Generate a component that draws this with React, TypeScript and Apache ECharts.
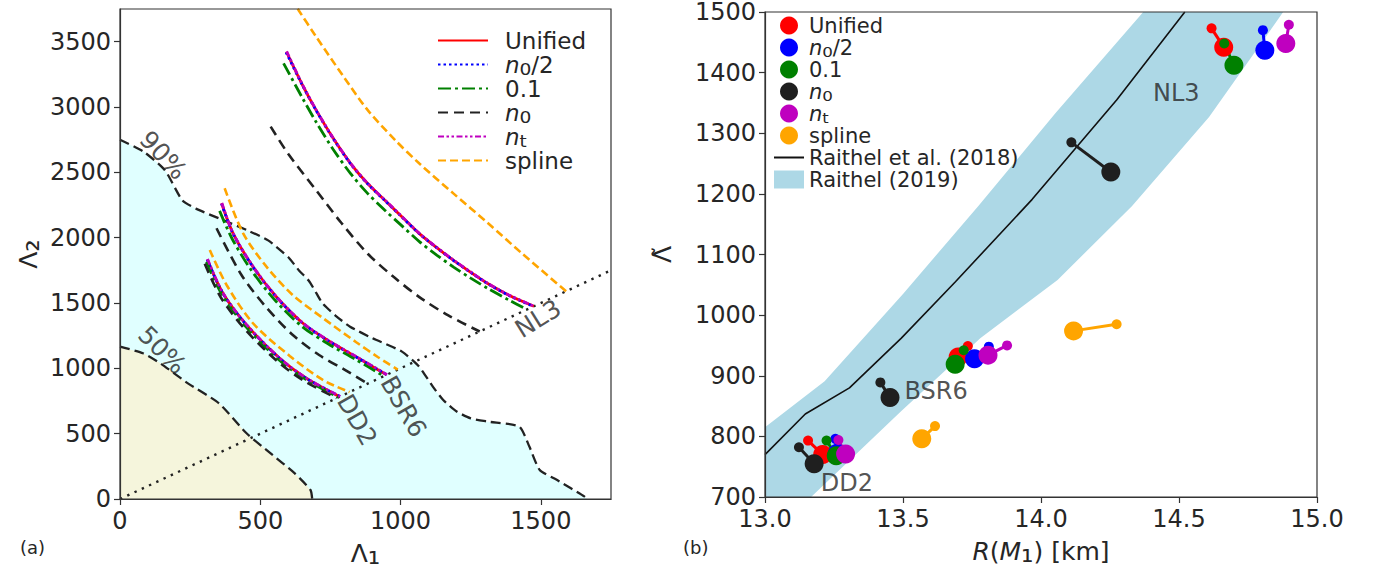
import React, { useEffect, useRef } from 'react';
import * as echarts from 'echarts';

// ---------------- Panel (a): Λ1 vs Λ2 ----------------
const leftXTicks = [0, 500, 1000, 1500];
const leftYTicks = [0, 500, 1000, 1500, 2000, 2500, 3000, 3500];

const contour90 = [[0, 2750], [85, 2657], [160, 2516], [222, 2286], [271, 2222], [369, 2133], [454, 2056], [528, 1979], [600, 1850], [638, 1749], [673, 1670], [700, 1575], [722, 1497], [770, 1400], [820, 1319], [900, 1230], [1005, 1128], [1066, 1013], [1115, 860], [1152, 758], [1200, 670], [1250, 617], [1312, 592], [1423, 554], [1459, 401], [1496, 222], [1558, 145], [1656, 18], [1665, 0]];
const contour50 = [[0, 1166], [82, 1115], [144, 1038], [242, 885], [353, 732], [451, 503], [537, 349], [623, 196], [679, 69], [685, 0]];
const diagonal = [[0, 0], [1750, 1750]];

const unifiedDD2 = [[311, 1834], [367, 1574], [451, 1332], [569, 1077], [664, 924], [783, 783]];
const unifiedBSR6 = [[362, 2263], [403, 2033], [474, 1778], [557, 1548], [652, 1345], [740, 1215], [840, 1090], [950, 950]];
const unifiedNL3 = [[593, 3423], [650, 3170], [699, 2976], [760, 2760], [822, 2567], [880, 2420], [944, 2286], [1000, 2170], [1067, 2031], [1130, 1922], [1189, 1826], [1250, 1735], [1312, 1647], [1390, 1555], [1475, 1475]];

const halfDD2 = [[311, 1832], [367, 1573], [451, 1331], [569, 1076], [664, 923], [784, 784]];
const halfBSR6 = [[362, 2260], [403, 2031], [474, 1776], [557, 1546], [652, 1344], [740, 1214], [840, 1089], [951, 951]];
const halfNL3 = [[592, 3418], [650, 3168], [699, 2974], [760, 2758], [822, 2565], [880, 2418], [944, 2284], [1000, 2168], [1067, 2030], [1130, 1921], [1189, 1825], [1250, 1734], [1312, 1646], [1390, 1554], [1474, 1474]];

const greenDD2 = [[308, 1815], [365, 1558], [449, 1318], [566, 1066], [662, 915], [778, 778]];
const greenBSR6 = [[355, 2205], [400, 1990], [470, 1745], [555, 1515], [650, 1318], [740, 1190], [840, 1068], [940, 940]];
const greenNL3 = [[583, 3334], [650, 3070], [699, 2885], [760, 2675], [822, 2490], [880, 2345], [944, 2210], [1000, 2100], [1067, 1970], [1130, 1865], [1189, 1775], [1250, 1690], [1312, 1610], [1390, 1518], [1450, 1450]];

const n0DD2 = [[302, 1800], [360, 1540], [445, 1300], [560, 1055], [655, 905], [772, 772]];
const n0BSR6 = [[344, 2072], [433, 1714], [520, 1470], [616, 1255], [711, 1100], [800, 990], [883, 883]];
const n0NL3 = [[537, 2850], [600, 2640], [699, 2363], [790, 2110], [883, 1877], [975, 1700], [1067, 1545], [1170, 1405], [1282, 1282]];

const ntDD2 = [[312, 1836], [367, 1576], [451, 1334], [569, 1078], [664, 925], [785, 785]];
const ntBSR6 = [[363, 2265], [403, 2035], [474, 1780], [557, 1550], [652, 1347], [740, 1217], [840, 1092], [952, 952]];
const ntNL3 = [[594, 3425], [650, 3173], [699, 2978], [760, 2762], [822, 2569], [880, 2422], [944, 2288], [1000, 2172], [1067, 2033], [1130, 1924], [1189, 1828], [1250, 1737], [1312, 1649], [1390, 1557], [1476, 1476]];

const splineDD2 = [[320, 1906], [380, 1638], [474, 1345], [605, 1095], [723, 911], [818, 818]];
const splineBSR6 = [[373, 2378], [439, 2033], [522, 1778], [616, 1560], [723, 1385], [842, 1200], [920, 1085], [990, 990]];
const splineNL3 = [[610, 3830], [636, 3743], [699, 3538], [797, 3232], [883, 2976], [981, 2746], [1067, 2567], [1189, 2337], [1312, 2110], [1434, 1877], [1590, 1590]];

const leftLabelTexts = ['90%', '50%', 'NL3', 'BSR6', 'DD2'];
const leftLabelAnchors = [[154, 2631], [150, 1140], [1490, 1380], [1011, 707], [845, 605]];
const leftLabelAngles = [-47, -45, 32, -60, -60];

// ---------------- Panel (b): R(M1) vs Λ̃ ----------------
const rightXTicks = [13.0, 13.5, 14.0, 14.5, 15.0];
const rightYTicks = [700, 800, 900, 1000, 1100, 1200, 1300, 1400, 1500];

const bandUpper = [[12.95, 792], [13.0, 815], [13.216, 891], [13.5, 1035], [13.773, 1180], [14.052, 1333], [14.365, 1497], [14.42, 1530]];
const bandLower = [[12.95, 560], [13.167, 700], [13.494, 842], [13.78, 962], [14.06, 1058], [14.33, 1180], [14.609, 1327], [14.873, 1497], [14.92, 1530]];
const raithel2018 = [[13.0, 770], [13.146, 837], [13.306, 880], [13.494, 962], [13.69, 1055], [13.968, 1191], [14.274, 1355], [14.521, 1500]];

const unifiedSmall = [[13.156, 793], [13.735, 949], [14.618, 1473]];
const unifiedBig = [[13.209, 770], [13.70, 931], [14.662, 1442]];
const halfSmall = [[13.255, 796], [13.811, 948], [14.804, 1470]];
const halfBig = [[13.262, 772], [13.759, 928], [14.811, 1437]];
const greenSmall = [[13.223, 793], [13.72, 942], [14.664, 1448]];
const greenBig = [[13.258, 768], [13.689, 919], [14.699, 1412]];
const n0Small = [[13.123, 782], [13.418, 889], [14.110, 1285]];
const n0Big = [[13.178, 755], [13.453, 864], [14.253, 1236]];
const ntSmall = [[13.266, 794], [13.877, 950], [14.898, 1479]];
const ntBig = [[13.292, 771], [13.808, 934], [14.887, 1448]];
const splineSmall = [[13.616, 817], [14.274, 985]];
const splineBig = [[13.568, 796], [14.118, 974]];

const rightLabelTexts = ['NL3', 'BSR6', 'DD2'];
const rightLabelAnchors = [[14.49, 1366], [13.62, 875], [13.297, 723]];

const modelKeys = ['Unified', 'n0/2', '0.1', 'n0', 'nt', 'spline'];

const FONT = 'DejaVu Sans';
const TXT = '#262626';

// every legend row carries one subscript-sized token so that all rows get the same height
const richName: Record<string, string> = {
  Unified: '{r|Unified}{s| }',
  'n0/2': '{i|n}{s|\u2080}{r|/2}',
  '0.1': '{r|0.1}{s| }',
  n0: '{i|n}{s|\u2080}',
  nt: '{i|n}{s|\u209C}',
  spline: '{r|spline}{s| }',
};

function richSet(fs: number, lh: number) {
  return {
    r: { fontFamily: FONT, fontSize: fs, lineHeight: lh, color: TXT },
    i: { fontFamily: FONT, fontSize: fs, lineHeight: lh, fontStyle: 'italic', color: TXT },
    s: { fontFamily: FONT, fontSize: Math.round(fs * 1.25), lineHeight: lh, color: TXT },
  };
}

export default function App() {
  const ref = useRef<HTMLDivElement>(null);
  useEffect(() => {
    if (!ref.current) return;
    const chart = echarts.init(ref.current, null, { renderer: 'svg' });

    const leftStyle: Record<string, any> = {
      Unified: { color: '#ff0000', type: 'solid', width: 2.8 },
      'n0/2': { color: '#0000ff', type: [2.5, 3], width: 2.8 },
      '0.1': { color: '#008000', type: [13, 4, 3, 4], width: 2.8 },
      n0: { color: '#222222', type: [10, 6], width: 2.6 },
      nt: { color: '#bf00bf', type: [6, 2.5, 2.5, 2.5, 2.5, 2.5], width: 2.8 },
      spline: { color: '#ffa500', type: [8, 4], width: 2.6 },
    };
    const leftCurves: Record<string, number[][][]> = {
      Unified: [unifiedDD2, unifiedBSR6, unifiedNL3],
      'n0/2': [halfDD2, halfBSR6, halfNL3],
      '0.1': [greenDD2, greenBSR6, greenNL3],
      n0: [n0DD2, n0BSR6, n0NL3],
      nt: [ntDD2, ntBSR6, ntNL3],
      spline: [splineDD2, splineBSR6, splineNL3],
    };

    const rightColor: Record<string, string> = {
      Unified: '#ff0000', 'n0/2': '#0000ff', '0.1': '#008000', n0: '#1f1f1f', nt: '#bf00bf', spline: '#ffa500',
    };
    const rightPairs: Record<string, number[][][]> = {
      Unified: [unifiedSmall, unifiedBig],
      'n0/2': [halfSmall, halfBig],
      '0.1': [greenSmall, greenBig],
      n0: [n0Small, n0Big],
      nt: [ntSmall, ntBig],
      spline: [splineSmall, splineBig],
    };

    const series: any[] = [];
    series.push({
      type: 'line', xAxisIndex: 0, yAxisIndex: 0, data: contour90, symbol: 'none', smooth: 0.2,
      lineStyle: { color: '#222', width: 2.3, type: [10, 5] }, areaStyle: { color: '#e0ffff', opacity: 1, origin: 'start' },
      z: 1, silent: true,
    });
    series.push({
      type: 'line', xAxisIndex: 0, yAxisIndex: 0, data: contour50, symbol: 'none', smooth: 0.2,
      lineStyle: { color: '#222', width: 2.3, type: [10, 5] }, areaStyle: { color: '#f5f5dc', opacity: 1, origin: 'start' },
      z: 1, silent: true,
    });
    series.push({
      type: 'line', xAxisIndex: 0, yAxisIndex: 0, data: diagonal, symbol: 'none',
      lineStyle: { color: '#222', width: 2.4, type: [2.4, 5.6] }, z: 2, silent: true,
    });
    modelKeys.forEach((k) => {
      leftCurves[k].forEach((c) => {
        series.push({
          type: 'line', name: 'L-' + k, xAxisIndex: 0, yAxisIndex: 0, data: c, symbol: 'none',
          smooth: 0.3, lineStyle: leftStyle[k], itemStyle: { color: leftStyle[k].color }, z: 3,
        });
      });
    });
    series.push({
      type: 'scatter', xAxisIndex: 0, yAxisIndex: 0, symbolSize: 1, itemStyle: { color: 'rgba(0,0,0,0)' }, z: 5, silent: true,
      data: leftLabelAnchors.map((p, i) => ({
        value: p,
        label: { show: true, position: 'inside', formatter: leftLabelTexts[i], rotate: leftLabelAngles[i], fontSize: 25, fontFamily: FONT, color: TXT },
      })),
    });

    series.push({
      type: 'custom', name: 'Raithel (2019)', xAxisIndex: 1, yAxisIndex: 1, clip: true, z: 1,
      itemStyle: { color: '#add8e6' },
      data: [bandUpper[1]],
      renderItem: (_p: any, api: any) => {
        const pts = bandUpper.concat(bandLower.slice().reverse()).map((q) => api.coord(q));
        return { type: 'polygon', shape: { points: pts }, style: { fill: '#add8e6' } };
      },
      silent: true,
    });
    series.push({
      type: 'line', name: 'Raithel et al. (2018)', xAxisIndex: 1, yAxisIndex: 1, data: raithel2018, symbol: 'none',
      lineStyle: { color: '#111', width: 1.6 }, itemStyle: { color: '#111' }, z: 2,
    });
    modelKeys.forEach((k) => {
      const [sm, bg] = rightPairs[k];
      sm.forEach((s, gi) => {
        series.push({
          type: 'line', name: 'R-' + k, xAxisIndex: 1, yAxisIndex: 1,
          data: [{ value: s, symbolSize: 10 }, { value: bg[gi], symbolSize: 19 }],
          symbol: 'circle', showSymbol: true, showAllSymbol: true,
          lineStyle: { color: rightColor[k], width: 3 }, itemStyle: { color: rightColor[k] }, z: 3,
        });
      });
    });
    series.push({
      type: 'scatter', xAxisIndex: 1, yAxisIndex: 1, symbolSize: 1, itemStyle: { color: 'rgba(0,0,0,0)' }, z: 5, silent: true,
      data: rightLabelAnchors.map((p, i) => ({
        value: p,
        label: { show: true, position: 'inside', formatter: rightLabelTexts[i], fontSize: 24, fontFamily: FONT, color: TXT },
      })),
    });

    const axisCommon = {
      axisLine: { show: true, lineStyle: { color: '#333', width: 1.2 } },
      axisTick: { show: true, inside: false, length: 6, lineStyle: { color: '#333', width: 1.2 } },
      splitLine: { show: false },
      z: 10,
    };
    const labelCommon = { fontSize: 24, fontFamily: FONT, color: TXT };
    const plain = (v: number) => String(v);

    const option: any = {
      animation: false,
      backgroundColor: '#ffffff',
      textStyle: { fontFamily: FONT },
      grid: [
        { left: 120, right: 763, top: 9, bottom: 79, show: true, borderColor: '#333', borderWidth: 1.2, backgroundColor: 'transparent', z: 10 },
        { left: 765, right: 57, top: 8, bottom: 81, show: true, borderColor: '#333', borderWidth: 1.2, backgroundColor: 'transparent', z: 10 },
      ],
      xAxis: [
        {
          ...axisCommon, type: 'value', gridIndex: 0, min: 0, max: 1750,
          axisTick: { ...axisCommon.axisTick, customValues: leftXTicks },
          axisLabel: { ...labelCommon, margin: 10, customValues: leftXTicks, formatter: plain },
          name: '{r|Λ}{s|\u2081}', nameLocation: 'middle', nameGap: 34,
          nameTextStyle: { rich: richSet(25, 28) },
        },
        {
          ...axisCommon, type: 'value', gridIndex: 1, min: 13, max: 15,
          axisTick: { ...axisCommon.axisTick, customValues: rightXTicks },
          axisLabel: { ...labelCommon, margin: 10, customValues: rightXTicks, formatter: (v: number) => v.toFixed(1) },
          name: '{i|R}{r|(}{i|M}{s|\u2081}{r|) [km]}', nameLocation: 'middle', nameGap: 34,
          nameTextStyle: { rich: richSet(25, 28) },
        },
      ],
      yAxis: [
        {
          ...axisCommon, type: 'value', gridIndex: 0, min: 0, max: 3750,
          axisTick: { ...axisCommon.axisTick, customValues: leftYTicks },
          axisLabel: { ...labelCommon, margin: 9, customValues: leftYTicks, formatter: plain },
          name: '{r|Λ}{s|\u2082}', nameLocation: 'middle', nameGap: 78, nameRotate: 90,
          nameTextStyle: { rich: richSet(25, 28) },
        },
        {
          ...axisCommon, type: 'value', gridIndex: 1, min: 700, max: 1500,
          axisTick: { ...axisCommon.axisTick, customValues: rightYTicks },
          axisLabel: { ...labelCommon, margin: 9, customValues: rightYTicks, formatter: plain },
          name: 'Λ\u0303', nameLocation: 'middle', nameGap: 90, nameRotate: 90,
          nameTextStyle: { fontSize: 25, fontFamily: FONT, color: TXT },
        },
      ],
      legend: [
        {
          orient: 'vertical', left: 437, top: 26, padding: 0, itemWidth: 50, itemHeight: 22, itemGap: -5,
          data: modelKeys.map((k) => 'L-' + k),
          formatter: (n: string) => richName[n.slice(2)],
          itemStyle: { opacity: 0 },
          selectedMode: false,
          textStyle: { fontFamily: FONT, fontSize: 23, lineHeight: 22, color: TXT, padding: [0, 0, 0, 12], rich: richSet(23, 22) },
        },
        {
          orient: 'vertical', left: 773, top: 12.5, padding: 0, itemWidth: 30, itemHeight: 18, itemGap: -4,
          data: [
            ...modelKeys.map((k) => ({ name: 'R-' + k, icon: 'circle' })),
            { name: 'Raithel et al. (2018)', itemStyle: { opacity: 0 } },
            { name: 'Raithel (2019)', icon: 'rect' },
          ],
          formatter: (n: string) => (n.startsWith('R-') ? richName[n.slice(2)] : '{r|' + n + '}{s| }'),
          selectedMode: false,
          textStyle: { fontFamily: FONT, fontSize: 21, lineHeight: 18, color: TXT, rich: richSet(21, 18) },
        },
      ],
      graphic: [
        { type: 'text', left: 20, top: 538, style: { text: '(a)', font: '18px "DejaVu Sans"', fill: TXT } },
        { type: 'text', left: 683, top: 538, style: { text: '(b)', font: '18px "DejaVu Sans"', fill: TXT } },
      ],
      series,
    };
    chart.setOption(option);
    return () => chart.dispose();
  }, []);
  return <div ref={ref} style={{ position: 'fixed', left: 0, top: 0, width: 1374, height: 578, background: '#fff' }} />;
}
